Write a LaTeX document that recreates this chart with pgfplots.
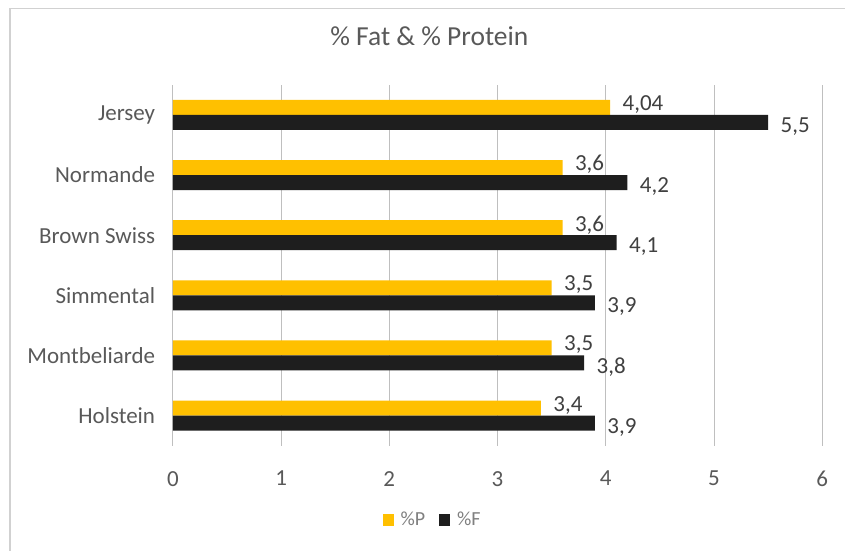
\documentclass[border=0pt]{standalone}
\usepackage{fontspec}
\setmainfont{Carlito}
\usepackage{pgfplots}
\pgfplotsset{compat=1.18}

\definecolor{protein}{HTML}{FFC000}
\definecolor{fat}{HTML}{1E1E1E}
\definecolor{txt}{HTML}{595959}
\definecolor{lbl}{HTML}{404040}
\definecolor{grid}{HTML}{F4F4F4}

\begin{document}
\begin{tikzpicture}[x=1pt,y=1pt]
  % page area and frame
  \path[fill=white] (0,0) rectangle (846,551);
  \draw[line width=1.5pt, black!18] (10,0) -- (10,542.5) -- (846,542.5);

  \begin{axis}[
    at={(173pt,105pt)}, anchor=south west,
    scale only axis, width=650pt, height=361pt,
    xbar, bar width=15pt,
    xmin=0, xmax=6, xtick={0,1,2,3,4,5,6},
    ymin=-0.5, ymax=5.5, ytick={0,1,2,3,4,5},
    yticklabels={Holstein,Montbeliarde,Simmental,Brown Swiss,Normande,Jersey},
    axis line style={draw=none},
    major tick style={draw=none},
    xmajorgrids, ymajorgrids=false,
    major grid style={grid, line width=1pt},
    tick label style={font=\fontsize{23}{27}\selectfont, text=txt},
    /pgf/number format/assume math mode=true,
    /pgf/number format/use comma,
    /pgf/number format/precision=2,
    xticklabel style={yshift=-22pt},
    yticklabel style={xshift=-10pt},
    title={\% Fat \& \% Protein},
    title style={font=\fontsize{27.5}{32}\selectfont, text=txt,
      at={(0.395,1.119)}, anchor=center},
    legend style={at={(0.40,-0.205)}, anchor=center, draw=none,
      legend columns=2, font=\fontsize{20}{24}\selectfont, text=black!50,
      /tikz/every even column/.append style={column sep=12pt}},
    legend image code/.code={\fill[#1] (0pt,-6pt) rectangle (11pt,6pt);
      \path (16pt,0pt);},
    nodes near coords,
    nodes near coords style={font=\fontsize{23}{27}\selectfont, text=lbl},
  ]
    % protein (upper bar in each group)
    \addplot[fill=protein, draw=none, bar shift=7.5pt,
      nodes near coords style={yshift=3pt, xshift=9pt}]
      coordinates {(3.4,0) (3.5,1) (3.5,2) (3.6,3) (3.6,4) (4.04,5)};
    % fat (lower bar in each group)
    \addplot[fill=fat, draw=none, bar shift=-7.5pt,
      nodes near coords style={yshift=-4pt, xshift=9pt}]
      coordinates {(3.9,0) (3.8,1) (3.9,2) (4.1,3) (4.2,4) (5.5,5)};
    \legend{\%P,\%F}
  \end{axis}
\end{tikzpicture}
\end{document}
